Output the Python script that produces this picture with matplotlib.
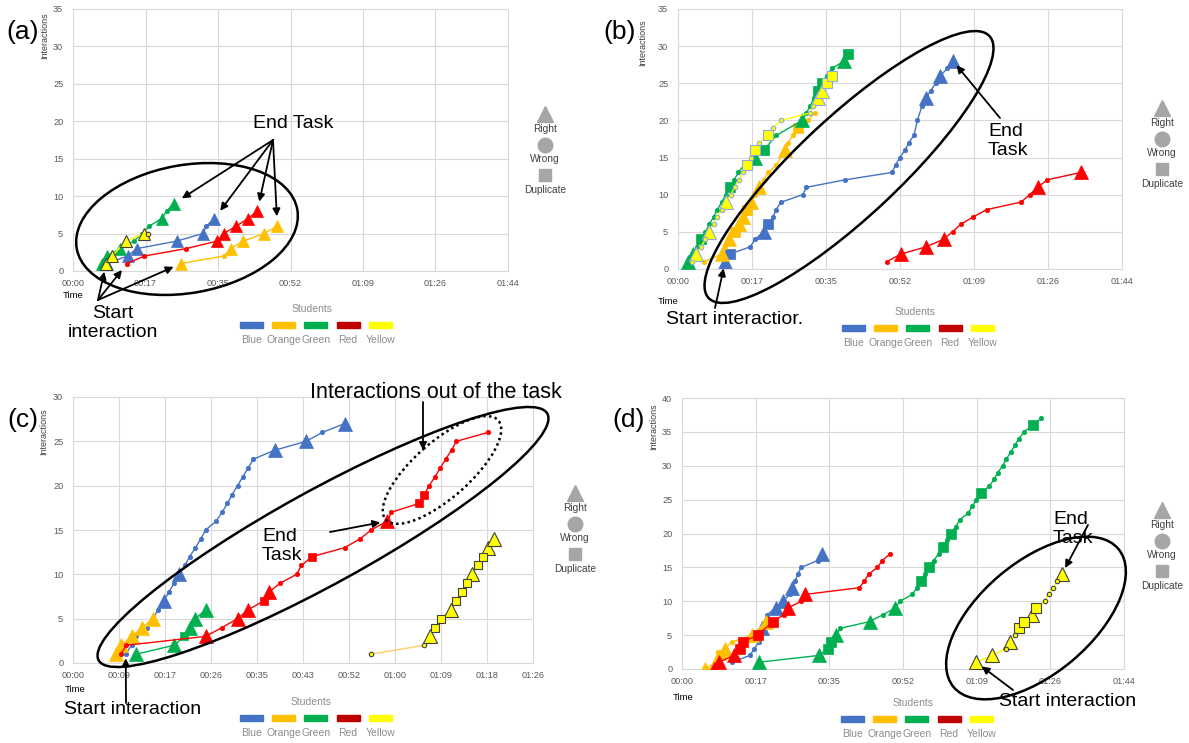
import matplotlib.pyplot as plt
from matplotlib.patches import Ellipse, Rectangle

plt.rcParams['font.family'] = ['Liberation Sans', 'DejaVu Sans']

W, H = 1189, 743

# ---- data: (time in seconds, cumulative interactions, marker code)
# marker codes: T = right (triangle), C = wrong (circle), S = duplicate (square)
STUDENTS = ['Blue', 'Orange', 'Green', 'Red', 'Yellow']
LINE_COLORS = ['#4472C4', '#FFC000', '#00B050', '#FF0000', '#FFFF00']
LEGEND_COLORS = ['#4472C4', '#FFC000', '#00B050', '#C00000', '#FFFF00']

TICKS_17 = ['00:00', '00:17', '00:35', '00:52', '01:09', '01:26', '01:44']
TICKS_09 = ['00:00', '00:09', '00:17', '00:26', '00:35', '00:43', '00:52',
            '01:00', '01:09', '01:18', '01:26']

# panel (a)
a_blue_t = [8.0, 13.0, 15.3, 24.8, 30.9, 31.8, 33.7]
a_blue_y = [1, 2, 3, 4, 5, 6, 7]
a_blue_m = 'TTTTTCT'
a_orange_t = [25.8, 36.0, 37.6, 40.6, 45.5, 48.7]
a_orange_y = [1, 2, 3, 4, 5, 6]
a_orange_m = 'TCTTTT'
a_green_t = [6.9, 8.1, 11.3, 14.5, 16.5, 18.2, 21.1, 22.3, 24.0]
a_green_y = [1, 2, 3, 4, 5, 6, 7, 8, 9]
a_green_m = 'TTTCCCTCT'
a_red_t = [12.9, 17.0, 27.0, 34.4, 35.9, 38.9, 41.7, 43.9]
a_red_y = [1, 2, 3, 4, 5, 6, 7, 8]
a_red_m = 'CCCTTTTT'
a_yellow_t = [7.9, 9.3, 12.7, 16.9, 17.8]
a_yellow_y = [1, 2, 4, 5, 5]
a_yellow_m = 'TTTTC'

# panel (b)
b_blue_t = [11.0, 12.1, 16.9, 18.0, 20.0, 21.0, 22.2, 22.9, 24.1, 29.1, 30.0, 39.0, 50.0,
            50.8, 51.8, 53.0, 53.9, 55.1, 55.9, 57.0, 57.8, 59.0, 60.2, 61.2, 62.9, 64.2]
b_blue_y = [1, 2, 3, 4, 5, 6, 7, 8, 9, 10, 11, 12, 13, 14, 15, 16, 17, 18, 20, 22,
            23, 24, 25, 26, 27, 28]
b_blue_m = 'TSCCTSCCCCCCCCCCCCCCTCCTCT'
b_orange_t = [6.1, 10.2, 11.0, 11.9, 13.2, 14.2, 15.1, 16.1, 17.0, 18.0, 19.0, 20.0,
              21.1, 23.0, 25.0, 25.7, 26.9, 28.0, 30.3, 31.9]
b_orange_y = [1, 2, 3, 4, 5, 6, 7, 8, 9, 10, 11, 12, 13, 14, 16, 17, 18, 19, 20, 21]
b_orange_m = 'CTCTSTTSTCTCCCTCCSCC'
b_green_t = [2.3, 3.5, 4.4, 5.4, 6.4, 7.3, 8.3, 9.2, 10.2, 11.1, 12.1, 13.1, 14.1, 15.4,
             18.0, 20.0, 23.0, 29.0, 30.0, 30.9, 31.7, 32.6, 33.6, 34.7, 35.9, 38.8, 39.8]
b_green_y = [1, 2, 3, 4, 5, 6, 7, 8, 9, 10, 11, 12, 13, 14, 15, 16, 18, 20, 21, 22, 23,
             24, 25, 26, 27, 28, 29]
b_green_m = 'TTCSCCCCCCSCCCTSCTCCCSSCCTS'
b_red_t = [48.8, 52.0, 58.0, 62.0, 64.1, 66.0, 68.9, 72.1, 80.1, 82.1, 84.0, 86.2, 94.1]
b_red_y = [1, 2, 3, 4, 5, 6, 7, 8, 9, 10, 11, 12, 13]
b_red_m = 'CTTTCCCCCCTCT'
b_yellow_t = [3.3, 4.2, 5.4, 6.4, 7.3, 8.3, 9.2, 10.2, 11.1, 12.3, 13.2, 14.2, 15.2, 16.1,
              17.1, 18.0, 19.0, 21.0, 22.1, 24.0, 30.9, 31.6, 32.6, 33.6, 34.8, 35.9]
b_yellow_y = [1, 2, 3, 4, 5, 6, 7, 8, 9, 10, 11, 12, 13, 14, 15, 16, 17, 18, 19, 20,
              21, 22, 23, 24, 25, 26]
b_yellow_m = 'CTCCTCCCTCCCCSCSCSCCCCTTSS'

# panel (c)
c_blue_t = [9.9, 11.0, 11.9, 13.9, 14.9, 16.0, 17.0, 18.0, 19.0, 20.0, 21.0, 21.9, 23.0,
            24.0, 24.9, 26.9, 28.0, 29.0, 29.9, 30.9, 31.9, 32.9, 33.9, 37.9, 43.8, 46.8, 51.0]
c_blue_y = list(range(1, 28))
c_blue_m = 'CCCCCCTCCTCCCCCCCCCCCCCTTCT'
c_orange_t = [8.0, 9.0, 11.0, 13.0, 15.0]
c_orange_y = [1, 2, 3, 4, 5]
c_orange_m = 'TTTTT'
c_green_t = [11.9, 19.0, 20.9, 21.9, 22.9, 25.0]
c_green_y = [1, 2, 3, 4, 5, 6]
c_green_m = 'TTSTTT'
c_red_t = [9.0, 10.0, 24.9, 28.0, 30.9, 32.9, 35.8, 36.8, 38.9, 42.0, 42.9, 44.9, 51.0,
           53.9, 56.0, 59.0, 59.8, 65.0, 66.0, 66.9, 68.0, 69.0, 70.0, 71.1, 72.0, 77.9]
c_red_y = list(range(1, 27))
c_red_m = 'CCTCTTSTCCCSCCCTCSSCCCCCCC'
c_yellow_t = [56.0, 66.0, 67.0, 68.0, 69.1, 71.0, 72.0, 73.0, 74.0, 75.0, 76.0, 77.0, 77.9, 79.0]
c_yellow_y = list(range(1, 15))
c_yellow_m = 'CCTSSTSSSTSSTT'

# panel (d)
d_blue_t = [11.8, 15.9, 17.0, 18.0, 18.5, 18.8, 19.4, 19.9, 22.0, 23.6, 25.3, 25.9, 26.6,
            27.1, 28.0, 31.8, 32.8]
d_blue_y = list(range(1, 18))
d_blue_m = 'CCCCCTCCTTCTCCCCT'
d_orange_t = [5.5, 8.0, 9.2, 10.0, 11.8, 16.5, 19.8]
d_orange_y = [0, 1, 2, 3, 4, 5, 7]
d_orange_m = 'TTSTCTT'
d_green_t = [18.0, 32.1, 34.2, 35.0, 36.2, 37.1, 44.0, 47.1, 50.0, 51.1, 54.0, 55.1, 56.0,
             56.9, 58.0, 59.0, 60.2, 61.3, 62.1, 63.0, 64.2, 65.1, 67.1, 68.1, 69.0, 70.2,
             72.1, 73.2, 74.1, 75.2, 76.1, 77.1, 78.1, 79.0, 80.2, 82.3, 84.2]
d_green_y = list(range(1, 38))
d_green_m = 'TTSSTCTCTCCCSCSCCSCSCCCCCSCCCCCCCCCSC'
d_red_t = [7.5, 8.7, 12.1, 13.5, 14.2, 17.8, 21.3, 23.9, 24.8, 28.0, 28.8, 41.6, 42.8,
           43.8, 45.8, 47.0, 48.8]
d_red_y = [0, 1, 2, 3, 4, 5, 7, 8, 9, 10, 11, 12, 13, 14, 15, 16, 17]
d_red_m = 'TTTSSSSCTCTCCCCCC'
d_yellow_t = [69.0, 72.8, 75.9, 77.0, 78.1, 79.0, 80.2, 82.1, 83.1, 85.1, 86.0, 87.1, 88.0, 89.1]
d_yellow_y = list(range(1, 15))
d_yellow_m = 'TTCTCSSTSCCCCT'

fig = plt.figure(figsize=(W / 100, H / 100), dpi=100)


def px_rect(x0, y0, x1, y1):
    return [x0 / W, 1 - y1 / H, (x1 - x0) / W, (y1 - y0) / H]


def draw_panel(box, labels, step, ymax, series, tri=9.5, sq=6.8,
               yellow_line='#FFFF00', yellow_edge='#404040'):
    markers = {'T': ('^', tri), 'S': ('s', sq), 'C': ('o', 3.2)}
    ax = fig.add_axes(px_rect(*box))
    ax.set_xlim(0, step * (len(labels) - 1))
    ax.set_ylim(0, ymax)
    ax.set_xticks([i * step for i in range(len(labels))], labels)
    ax.set_yticks(range(0, ymax + 1, 5))
    ax.grid(color='#D9D9D9', lw=0.8)
    ax.set_axisbelow(True)
    for sp in ax.spines.values():
        sp.set_color('#D9D9D9')
        sp.set_linewidth(0.8)
    ax.tick_params(length=0, labelsize=6.6, labelcolor='#595959')
    ax.tick_params(axis='y', pad=7)
    ax.tick_params(axis='x', pad=6)
    for i, (t, y, m) in enumerate(series):
        color = LINE_COLORS[i]
        is_yellow = STUDENTS[i] == 'Yellow'
        ax.plot(t, y, color=yellow_line if is_yellow else color, lw=1.0, zorder=2 + i)
        for code, (mk, ms) in markers.items():
            tt = [a for a, c in zip(t, m) if c == code]
            yy = [b for b, c in zip(y, m) if c == code]
            if not tt:
                continue
            ax.plot(tt, yy, ls='none', marker=mk, ms=ms, mfc=color,
                    mec=yellow_edge if is_yellow else color,
                    mew=0.8 if is_yellow else 0.5, zorder=2.5 + i)
    return ax


ax_a = draw_panel((73, 9, 508, 271), TICKS_17, 17.28, 35, [
    (a_blue_t, a_blue_y, a_blue_m), (a_orange_t, a_orange_y, a_orange_m),
    (a_green_t, a_green_y, a_green_m), (a_red_t, a_red_y, a_red_m),
    (a_yellow_t, a_yellow_y, a_yellow_m)], tri=9)
ax_b = draw_panel((678, 9, 1122, 269), TICKS_17, 17.28, 35, [
    (b_blue_t, b_blue_y, b_blue_m), (b_orange_t, b_orange_y, b_orange_m),
    (b_green_t, b_green_y, b_green_m), (b_red_t, b_red_y, b_red_m),
    (b_yellow_t, b_yellow_y, b_yellow_m)], tri=10, yellow_edge='#8FAADC')
ax_c = draw_panel((73, 397, 533, 663), TICKS_09, 8.64, 30, [
    (c_blue_t, c_blue_y, c_blue_m), (c_orange_t, c_orange_y, c_orange_m),
    (c_green_t, c_green_y, c_green_m), (c_red_t, c_red_y, c_red_m),
    (c_yellow_t, c_yellow_y, c_yellow_m)], tri=10, sq=6.3, yellow_line='#FFCC66')
ax_d = draw_panel((682, 398, 1124, 669), TICKS_17, 17.28, 40, [
    (d_blue_t, d_blue_y, d_blue_m), (d_orange_t, d_orange_y, d_orange_m),
    (d_green_t, d_green_y, d_green_m), (d_red_t, d_red_y, d_red_m),
    (d_yellow_t, d_yellow_y, d_yellow_m)], tri=10, sq=7)

# ---- overlay in pixel coordinates for legends and annotations
ov = fig.add_axes([0, 0, 1, 1], zorder=10)
ov.set_xlim(0, W)
ov.set_ylim(H, 0)
ov.axis('off')

ARROW = dict(arrowstyle='-|>', color='black', lw=1.3, mutation_scale=11,
             shrinkA=0, shrinkB=5)


def frame_texts(y_label_center, x_label, time_xy, panel_xy, letter):
    ov.text(x_label, y_label_center, 'Interactions', rotation=90, fontsize=6.5,
            color='#404040', ha='center', va='center')
    ov.text(*time_xy, 'Time', fontsize=6.8, color='black', ha='center', va='center')
    ov.text(*panel_xy, letter, fontsize=19, ha='center', va='center')


def students_legend(cx, title_y, x0):
    ov.text(cx, title_y, 'Students', fontsize=7.5, color='#8C8C8C', ha='center', va='center')
    for i, name in enumerate(STUDENTS):
        x = x0 + i * 32.2
        ov.add_patch(Rectangle((x, title_y + 13), 23, 6, color=LEGEND_COLORS[i]))
        ov.text(x + 11.5, title_y + 31, name, fontsize=7.5, color='#8C8C8C',
                ha='center', va='center')


def shape_legend(x, y):
    ov.plot([x], [y], marker='^', ms=11, color='#A6A6A6', ls='none')
    ov.text(x, y + 15, 'Right', fontsize=7.3, color='#404040', ha='center', va='center')
    ov.plot([x], [y + 31], marker='o', ms=10.5, color='#A6A6A6', ls='none')
    ov.text(x, y + 45, 'Wrong', fontsize=7.3, color='#404040', ha='center', va='center')
    ov.plot([x], [y + 61], marker='s', ms=9, color='#A6A6A6', ls='none')
    ov.text(x, y + 76, 'Duplicate', fontsize=7.3, color='#404040', ha='center', va='center')


def arrow_to(ax, point, start, shrink=5):
    props = dict(ARROW, shrinkB=shrink)
    ov.annotate('', xy=point, xycoords=ax.transData, xytext=start,
                textcoords=ov.transData, arrowprops=props, annotation_clip=False)


# panel (a)
frame_texts(36, 45, (73, 296), (23, 32), '(a)')
students_legend(312, 309, 240)
shape_legend(545, 114)
ov.add_patch(Ellipse((187, 229), 224, 128, angle=-10, fill=False, lw=1.8, color='black'))
ov.text(253, 123, 'End Task', fontsize=14, ha='left', va='center')
for tt, yy in [(24.0, 9), (33.7, 7), (43.9, 8), (48.7, 6)]:
    arrow_to(ax_a, (tt, yy), (273, 140), shrink=7)
ov.text(113, 323, 'Start\ninteraction', fontsize=14, ha='center', va='center',
        linespacing=1.15)
for tt, yy in [(7.9, 1), (12.9, 1), (25.8, 1)]:
    arrow_to(ax_a, (tt, yy), (98, 300), shrink=6)

# panel (b)
frame_texts(43, 643, (668, 302), (620, 32), '(b)')
students_legend(915, 312, 842)
shape_legend(1162, 108)
ov.add_patch(Ellipse((849, 167), 384, 100, angle=-43, fill=False, lw=1.8, color='black'))
ov.text(988, 141, 'End\nTask', fontsize=14, ha='left', va='center', linespacing=1.15)
arrow_to(ax_b, (64.2, 28), (1000, 118), shrink=4)
ov.text(666, 320, 'Start interactior.', fontsize=14, ha='left', va='center')
arrow_to(ax_b, (11.0, 1), (715, 308), shrink=5)

# panel (c)
frame_texts(432, 44, (75, 689), (23, 420), '(c)')
students_legend(311, 702, 240)
shape_legend(575, 493)
ov.add_patch(Ellipse((323, 537), 512, 94, angle=-28.8, fill=False, lw=1.8, color='black'))
ov.add_patch(Ellipse((442, 470), 150, 56, angle=-41.4, fill=False, lw=1.8,
                     color='black', ls=(0, (1, 1.3))))
ov.text(310, 393, 'Interactions out of the task', fontsize=15.5, ha='left', va='center')
ov.annotate('', xy=(423, 450), xytext=(423, 402), arrowprops=dict(ARROW, shrinkB=0))
ov.text(262, 546, 'End\nTask', fontsize=14, ha='left', va='center', linespacing=1.15)
arrow_to(ax_c, (59.0, 16), (330, 532), shrink=5)
ov.text(64, 710, 'Start interaction', fontsize=14, ha='left', va='center')
arrow_to(ax_c, (9.9, 1), (126, 703), shrink=3)

# panel (d)
frame_texts(427, 654, (683, 698), (629, 420), '(d)')
students_legend(913, 703, 841)
shape_legend(1162, 510)
ov.add_patch(Ellipse((1036, 618), 215, 112, angle=-40, fill=False, lw=1.8, color='black'))
ov.text(1053, 529, 'End\nTask', fontsize=14, ha='left', va='center', linespacing=1.15)
arrow_to(ax_d, (89.1, 14), (1088, 525), shrink=5)
ov.text(999, 701, 'Start interaction', fontsize=14, ha='left', va='center')
arrow_to(ax_d, (69.0, 1), (1013, 690), shrink=5)

fig.savefig('out.png', dpi=100)
